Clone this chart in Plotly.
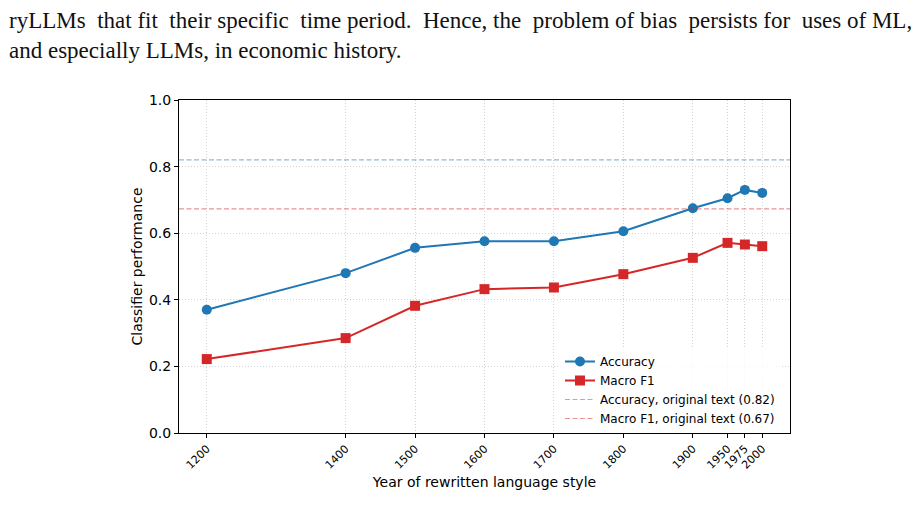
import plotly.graph_objects as go

years = [1200, 1400, 1500, 1600, 1700, 1800, 1900, 1950, 1975, 2000]
tick_labels = ["1200", "1400", "1500", "1600", "1700", "1800", "1900", "1950", "1975", "2000"]
accuracy = [0.370, 0.480, 0.556, 0.576, 0.576, 0.606, 0.675, 0.705, 0.730, 0.721]
macro_f1 = [0.222, 0.285, 0.382, 0.432, 0.437, 0.477, 0.526, 0.571, 0.566, 0.561]
acc_original = 0.82
f1_original = 0.673

BLUE = "#1f77b4"
RED = "#d62728"

fig = go.Figure()
fig.add_trace(go.Scatter(x=years, y=accuracy, mode="lines+markers", name="Accuracy",
                         line=dict(color=BLUE, width=2),
                         marker=dict(symbol="circle", size=10, color=BLUE)))
fig.add_trace(go.Scatter(x=years, y=macro_f1, mode="lines+markers", name="Macro F1",
                         line=dict(color=RED, width=2),
                         marker=dict(symbol="square", size=10, color=RED)))

fig.add_shape(type="line", xref="x domain", yref="y", x0=0, x1=1, y0=acc_original, y1=acc_original,
              line=dict(color="rgba(31,119,180,0.5)", width=1.2, dash="5px,2.5px"),
              showlegend=True, name="Accuracy, original text (0.82)")
fig.add_shape(type="line", xref="x domain", yref="y", x0=0, x1=1, y0=f1_original, y1=f1_original,
              line=dict(color="rgba(214,39,40,0.5)", width=1.2, dash="5px,2.5px"),
              showlegend=True, name="Macro F1, original text (0.67)")

L, R, T, B = 179, 790, 100, 433
W, H = 917, 523
pw, ph = R - L, B - T

def px(xp):
    return (xp - L) / pw

def py(yp):
    return (B - yp) / ph

S = "&nbsp; "
line1 = ("ryLLMs" + S + "that fit" + S + "their specific" + S + "time period.&nbsp;&nbsp;Hence, the" + S +
         "problem of bias" + S + "persists for" + S + "uses of ML,")
fig.add_annotation(text=line1,
                   xref="paper", yref="paper", x=px(7), y=py(20), xanchor="left", yanchor="middle",
                   showarrow=False, font=dict(family="Liberation Serif", size=23, color="#111"))
fig.add_annotation(text="and especially LLMs, in economic history.",
                   xref="paper", yref="paper", x=px(7), y=py(50), xanchor="left", yanchor="middle",
                   showarrow=False, font=dict(family="Liberation Serif", size=23, color="#111"))

axis_common = dict(showline=True, linecolor="black", linewidth=1, mirror=True,
                   ticks="outside", ticklen=4, tickcolor="black",
                   showgrid=True, gridcolor="rgba(200,200,200,0.8)", griddash="1px,2px", gridwidth=1,
                   zeroline=False)

fig.update_layout(
    width=W, height=H,
    margin=dict(l=L, r=W - R, t=T, b=H - B),
    paper_bgcolor="white", plot_bgcolor="white",
    font=dict(family="DejaVu Sans", size=12, color="black"),
    xaxis=dict(range=[1160, 2040], tickvals=years, ticktext=tick_labels, tickangle=-45,
               tickfont=dict(family="DejaVu Sans", size=11, color="black"),
               title=dict(text="Year of rewritten language style", font=dict(size=14), standoff=6),
               **axis_common),
    yaxis=dict(range=[0, 1], tickvals=[0, 0.2, 0.4, 0.6, 0.8, 1.0], tickformat=".1f",
               tickfont=dict(family="DejaVu Sans", size=14, color="black"),
               title=dict(text="Classifier performance", font=dict(size=14), standoff=3),
               **axis_common),
    legend=dict(x=px(560), y=py(347), xanchor="left", yanchor="top",
                bgcolor="rgba(255,255,255,0.8)", borderwidth=0,
                font=dict(family="DejaVu Sans", size=12), tracegroupgap=0,
                itemwidth=30),
    showlegend=True,
)

fig.write_html("out.html")
